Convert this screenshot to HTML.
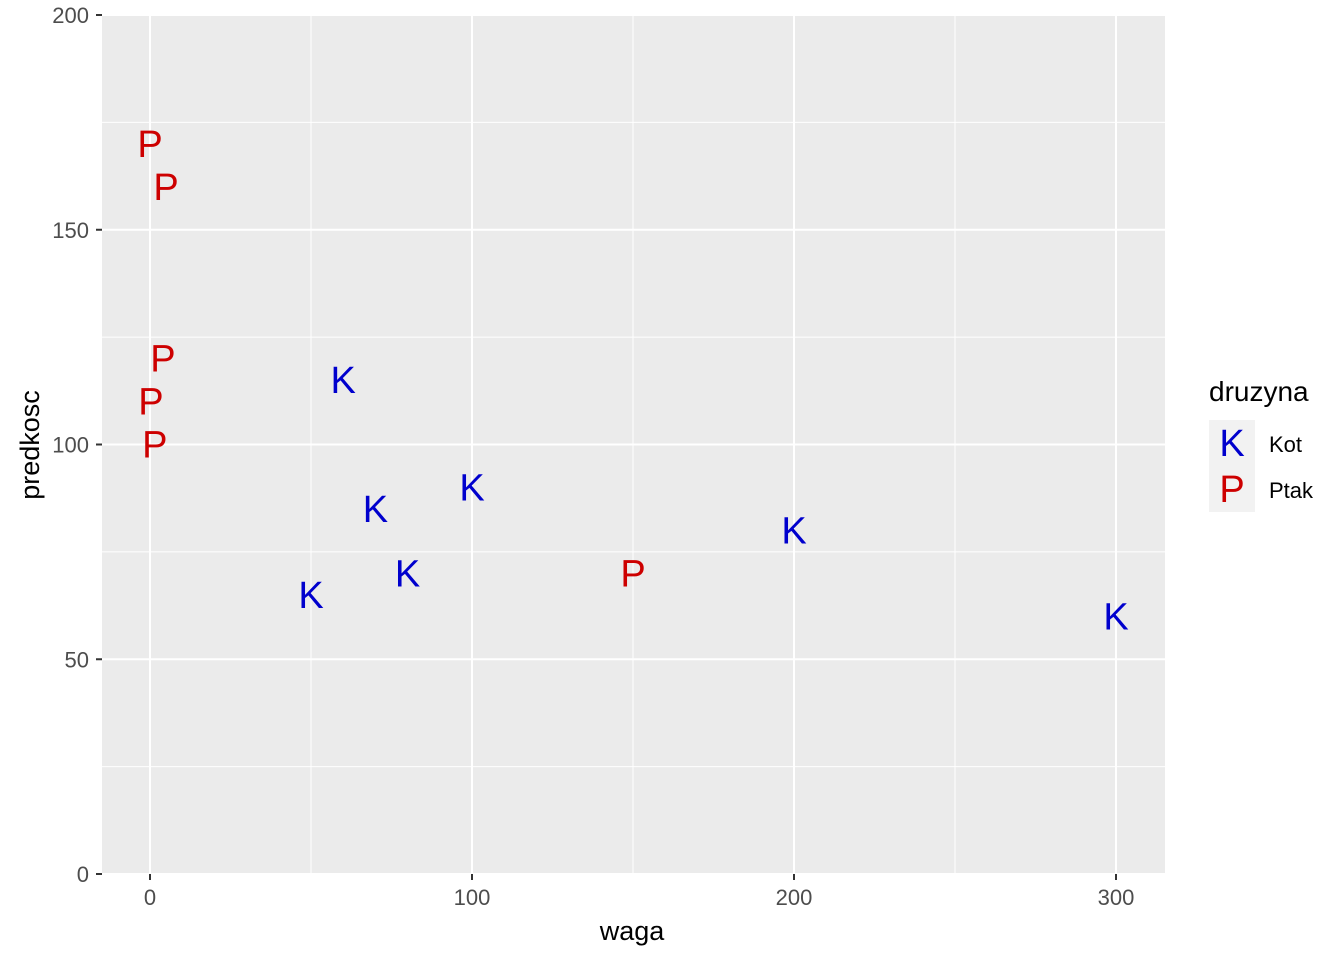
<!DOCTYPE html>
<html><head><meta charset="utf-8">
<style>
body{margin:0;background:#fff;}
svg{display:block;font-family:"Liberation Sans",Arial,sans-serif;}
</style></head>
<body>
<svg id="chart" width="1344" height="960">
<rect x="102" y="15" width="1063" height="859" fill="#EBEBEB"/>
<g id="grid"></g>
<g id="points"></g>
<g id="axes"></g>
<text x="632" y="940" text-anchor="middle" font-size="27" fill="#000">waga</text>
<text transform="translate(39,445) rotate(-90)" text-anchor="middle" font-size="27" fill="#000">predkosc</text>
<g>
<text x="1209" y="401" font-size="28" fill="#000">druzyna</text>
<rect x="1209" y="420" width="46" height="46" fill="#F2F2F2"/>
<rect x="1209" y="466" width="46" height="46" fill="#F2F2F2"/>
<text x="1232" y="456" text-anchor="middle" font-size="38" fill="#0000CD">K</text>
<text x="1232" y="502" text-anchor="middle" font-size="38" fill="#CD0000">P</text>
<text x="1269" y="452" font-size="22" fill="#000">Kot</text>
<text x="1269" y="498" font-size="22" fill="#000">Ptak</text>
</g>
</svg>
<script>
const wagaK=[60,70,100,80,50,200,300];
const predK=[115,85,90,70,65,80,60];
const wagaP=[0,5,4,0.3,1.5,150];
const predP=[170,160,120,110,100,70];
const xTicks=[0,100,200,300];
const yTicks=[0,50,100,150,200];
const NS="http://www.w3.org/2000/svg";
const X=v=>150+v*3.22;
const Y=v=>874-v*4.295;
const grid=document.getElementById('grid'),axes=document.getElementById('axes'),pts=document.getElementById('points');
function mk(tag,attrs,parent){const e=document.createElementNS(NS,tag);for(const k in attrs)e.setAttribute(k,attrs[k]);parent.appendChild(e);return e;}
for(let i=0;i<xTicks.length-1;i++){const v=(xTicks[i]+xTicks[i+1])/2;const l=mk('line',{x1:X(v),x2:X(v),y1:15,y2:874,stroke:'#fff','stroke-width':1},grid);

}
for(let i=0;i<yTicks.length-1;i++){const v=(yTicks[i]+yTicks[i+1])/2;const l=mk('line',{x1:102,x2:1165,y1:Y(v),y2:Y(v),stroke:'#fff','stroke-width':1},grid);

}
xTicks.forEach(v=>{const l=mk('line',{x1:X(v),x2:X(v),y1:15,y2:874,stroke:'#fff','stroke-width':2},grid);


const t=mk('line',{x1:X(v),x2:X(v),y1:874,y2:880,stroke:'#333','stroke-width':2},axes);


const tx=mk('text',{x:X(v),y:905,'text-anchor':'middle','font-size':22,fill:'#4D4D4D'},axes);tx.textContent=v;

});
yTicks.forEach(v=>{const l=mk('line',{x1:102,x2:1165,y1:Y(v),y2:Y(v),stroke:'#fff','stroke-width':2},grid);


const t=mk('line',{x1:96,x2:102,y1:Y(v),y2:Y(v),stroke:'#333','stroke-width':2},axes);


const tx=mk('text',{x:89,y:Y(v)+8,'text-anchor':'end','font-size':22,fill:'#4D4D4D'},axes);tx.textContent=v;

});
function draw(xs,ys,letter,color,name){xs.forEach((v,i)=>{const t=mk('text',{x:X(v),y:Y(ys[i])+13,'text-anchor':'middle','font-size':38,fill:color},pts);t.textContent=letter;

});}
draw(wagaK,predK,'K','#0000CD','point-kot');
draw(wagaP,predP,'P','#CD0000','point-ptak');
</script>
</body></html>
